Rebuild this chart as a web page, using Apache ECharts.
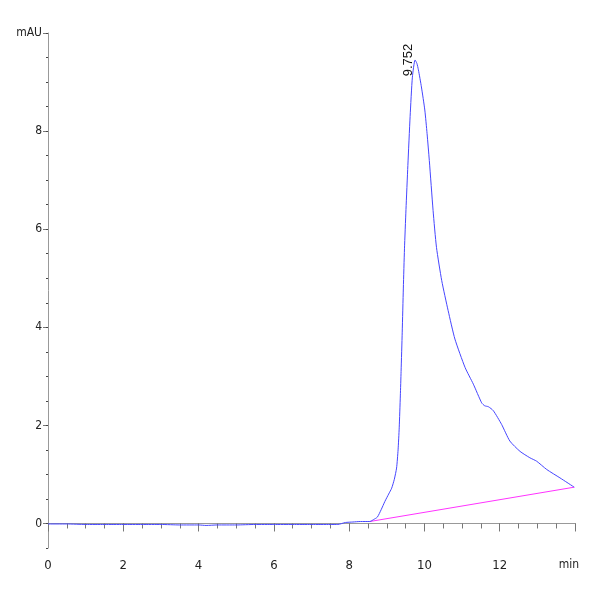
<!DOCTYPE html>
<html>
<head>
<meta charset="utf-8">
<script src="https://cdn.jsdelivr.net/npm/echarts@6/dist/echarts.min.js"></script>
<style>html,body{margin:0;padding:0;background:#fff}#c{width:600px;height:600px}</style>
</head>
<body>
<div id="c"></div>
<script>
// Chromatogram signal (min, mAU)
const times = [0,0.5,1,1.5,2,2.5,3,3.5,4,4.2,4.5,5,5.5,6,6.5,7,7.5,7.7,7.9,8.1,8.3,8.55,
  8.65,8.75,8.85,8.95,9.05,9.13,9.2,9.26,9.3,9.33,9.36,9.38,9.41,9.44,9.47,9.51,9.56,9.62,9.68,9.752,
  9.80,9.84,9.92,10.01,10.07,10.13,10.23,10.32,10.46,10.63,10.81,11.08,11.30,11.52,11.60,11.70,11.83,12.05,12.27,12.54,12.80,12.98,13.25,13.60,13.98];
const signal = [-0.01,-0.01,-0.02,-0.02,-0.02,-0.02,-0.02,-0.03,-0.03,-0.04,-0.03,-0.03,-0.02,-0.02,-0.02,-0.02,-0.02,-0.02,0.02,0.03,0.04,0.04,
  0.08,0.13,0.28,0.45,0.60,0.72,0.90,1.13,1.50,1.95,2.60,3.10,3.90,4.80,5.60,6.40,7.30,8.30,9.10,9.45,
  9.38,9.25,8.90,8.43,7.95,7.40,6.38,5.63,4.95,4.34,3.76,3.18,2.84,2.46,2.40,2.38,2.30,2.02,1.68,1.47,1.34,1.27,1.10,0.93,0.74];
// Integration baseline
const baseTimes = [8.55, 13.98];
const baseValues = [0.04, 0.74];
// Peak annotation
const peakTime = 9.752;
const peakValue = 9.45;
const peakLabel = "9.752";
// Tick labels
const xMajorTicks = [0, 2, 4, 6, 8, 10, 12, 14];
const xTickLabels = ["0", "2", "4", "6", "8", "10", "12", "min"];
const yMajorTicks = [0, 2, 4, 6, 8, 10];
const yTickLabels = ["0", "2", "4", "6", "8", "mAU"];
const xMinorTicks = [];
for (let i = 0; i <= 28; i++) xMinorTicks.push(i * 0.5);
const yMinorTicks = [];
for (let i = -1; i <= 20; i++) yMinorTicks.push(i * 0.5);

const chart = echarts.init(document.getElementById('c'));
const lineData = times.map((t, i) => [t, signal[i]]);
const baseData = baseTimes.map((t, i) => [t, baseValues[i]]);
const font = "'Liberation Sans Narrow', 'DejaVu Sans Condensed', 'Liberation Sans', sans-serif";
const axisLineStyle = { show: true, lineStyle: { color: '#999999', width: 1 } };
const labelOf = (vals, texts) => v => {
  const i = vals.findIndex(x => Math.abs(x - v) < 1e-6);
  if (i < 0) return '';
  return texts[i] === 'min' ? '{u|min}' : texts[i];
};
chart.setOption({
  animation: false,
  backgroundColor: '#ffffff',
  grid: { left: 48, right: 25, top: 33, bottom: 52 },
  xAxis: [
    {
      type: 'value', min: 0, max: 14,
      axisLine: axisLineStyle,
      axisTick: { show: true, length: 8, customValues: xMajorTicks, lineStyle: { color: '#777777' } },
      splitLine: { show: false },
      axisLabel: {
        customValues: xMajorTicks, formatter: labelOf(xMajorTicks, xTickLabels),
        color: '#222222', fontFamily: font, fontSize: 13, margin: 11,
        rich: { u: { padding: [0, 12, 0, 0], color: '#222222', fontFamily: font, fontSize: 12 } }
      }
    },
    {
      type: 'value', min: 0, max: 14, position: 'bottom',
      axisLine: { show: false },
      axisTick: { show: true, length: 5, customValues: xMinorTicks, lineStyle: { color: '#777777' } },
      splitLine: { show: false },
      axisLabel: { show: false }
    }
  ],
  yAxis: [
    {
      type: 'value', min: -0.5, max: 10,
      axisLine: axisLineStyle,
      axisTick: { show: true, length: 5, customValues: yMajorTicks, lineStyle: { color: '#777777' } },
      splitLine: { show: false },
      axisLabel: {
        customValues: yMajorTicks, formatter: labelOf(yMajorTicks, yTickLabels),
        color: '#222222', fontFamily: font, fontSize: 12, margin: 6
      }
    },
    {
      type: 'value', min: -0.5, max: 10, position: 'left',
      axisLine: { show: false },
      axisTick: { show: true, length: 2, customValues: yMinorTicks, lineStyle: { color: '#444444' } },
      splitLine: { show: false },
      axisLabel: { show: false }
    }
  ],
  series: [
    {
      type: 'line', data: lineData, showSymbol: false, smooth: 0.2,
      lineStyle: { color: '#4646ff', width: 1 }, z: 3,
      markPoint: {
        symbol: 'circle', symbolSize: 0,
        data: [{ coord: [peakTime, peakValue], value: peakLabel }],
        label: {
          show: true, formatter: peakLabel, rotate: 90, position: 'top', distance: 0,
          color: '#111111', fontFamily: "'Liberation Sans', Arial, sans-serif", fontSize: 13
        }
      }
    },
    {
      type: 'line', data: baseData, showSymbol: false,
      lineStyle: { color: '#ff33ff', width: 1 }, z: 2
    }
  ]
});
</script>
</body>
</html>
